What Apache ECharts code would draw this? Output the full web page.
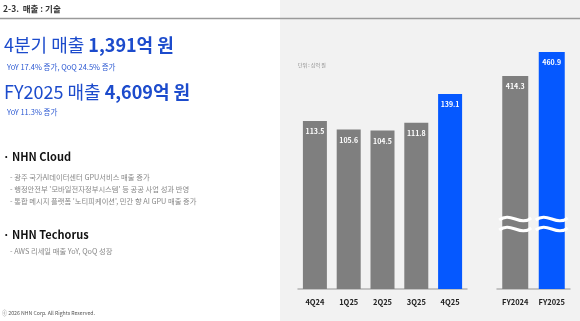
<!DOCTYPE html>
<html>
<head>
<meta charset="utf-8">
<script src="https://cdn.jsdelivr.net/npm/echarts@6/dist/echarts.min.js"></script>
<style>
html, body { margin: 0; padding: 0; background: #fff; }
#chart { width: 580px; height: 321px; }
</style>
</head>
<body>
<div id="chart"></div>
<script>
// 분기 매출 (단위: 십억 원)
var quarters = ['4Q24', '1Q25', '2Q25', '3Q25', '4Q25'];
var quarterSales = [113.5, 105.6, 104.5, 111.8, 139.1];
var years = ['FY2024', 'FY2025'];
var yearSales = [414.3, 460.9];
var unitText = '단위 : 십억 원';

var headerText = '2-3.  매출 : 기술';
var cloudNotes = [
	'- 광주 국가AI데이터센터 GPU서비스 매출 증가',
	'- 행정안전부 \'모바일전자정부시스템\' 등 공공 사업 성과 반영',
	'- 통합 메시지 플랫폼 \'노티피케이션\', 민간 향 AI GPU 매출 증가'
];
var techorusNotes = ['- AWS 리세일 매출 YoY, QoQ 성장'];

var FONT = '"Noto Sans CJK KR", "Noto Sans", sans-serif';
var GREY = '#7f7f7f';
var BLUE = '#0558ff';
var TITLE_BLUE = '#1c4bcc';

function barColor(list) {
	return list.map(function (v, i) {
		return {
			value: v,
			itemStyle: { color: i == list.length - 1 ? BLUE : GREY }
		};
	});
}

var myChart = echarts.init(document.getElementById('chart'));

var graphics = [
	{ type: 'rect', shape: { x: 280, y: 0, width: 300, height: 321 }, style: { fill: '#f2f2f2' }, z: -10 },
	{ type: 'line', shape: { x1: 0, y1: 18.5, x2: 580, y2: 18.5 }, style: { stroke: '#9a9a9a', lineWidth: 1.5 }, z: 10 },
	{
		type: 'text', left: 3, top: 5, z: 10,
		style: { text: headerText, fontSize: 8.5, fill: '#333', fontWeight: 'bold', fontFamily: FONT }
	},
	{
		type: 'text', left: 4, top: 36, z: 10,
		style: {
			text: '{n|4분기 매출 }{b|1,391억 원}',
			rich: {
				n: { fontSize: 18, fill: TITLE_BLUE, fontFamily: FONT },
				b: { fontSize: 18, fill: TITLE_BLUE, fontFamily: FONT, fontWeight: 'bold' }
			}
		}
	},
	{
		type: 'text', left: 7, top: 63, z: 10,
		style: { text: 'YoY 17.4% 증가, QoQ 24.5% 증가', fontSize: 7.5, fill: '#2b58d2', fontFamily: FONT }
	},
	{
		type: 'text', left: 4, top: 83, z: 10,
		style: {
			text: '{n|FY2025 매출 }{b|4,609억 원}',
			rich: {
				n: { fontSize: 18, fill: TITLE_BLUE, fontFamily: FONT },
				b: { fontSize: 18, fill: TITLE_BLUE, fontFamily: FONT, fontWeight: 'bold' }
			}
		}
	},
	{
		type: 'text', left: 7, top: 108, z: 10,
		style: { text: 'YoY 11.3% 증가', fontSize: 7.5, fill: '#2b58d2', fontFamily: FONT }
	},
	{
		type: 'text', left: 3, top: 151, z: 10,
		style: { text: '· NHN Cloud', fontSize: 11, fill: '#111', fontWeight: 'bold', fontFamily: FONT }
	},
	{
		type: 'text', left: 3, top: 229, z: 10,
		style: { text: '· NHN Techorus', fontSize: 11, fill: '#111', fontWeight: 'bold', fontFamily: FONT }
	},
	{
		type: 'text', left: 2, top: 310, z: 10,
		style: { text: 'ⓒ 2026 NHN Corp. All Rights Reserved.', fontSize: 5.2, fill: '#555', fontFamily: FONT }
	},
	{
		type: 'text', left: 298, top: 63, z: 10,
		style: { text: unitText, fontSize: 5, fill: '#888', fontFamily: FONT }
	}
];
cloudNotes.forEach(function (s, i) {
	graphics.push({
		type: 'text', left: 10, top: 174 + i * 12, z: 10,
		style: { text: s, fontSize: 7.3, fill: '#888', fontFamily: FONT }
	});
});
techorusNotes.forEach(function (s, i) {
	graphics.push({
		type: 'text', left: 10, top: 248 + i * 12, z: 10,
		style: { text: s, fontSize: 7.3, fill: '#888', fontFamily: FONT }
	});
});

var labelStyle = {
	show: true, position: 'insideTop', distance: 7,
	color: '#fff', fontSize: 7, fontWeight: 'bold', fontFamily: FONT,
	formatter: function (p) { return p.value.toFixed(1); }
};
var xLabel = { color: '#222', fontSize: 7.5, fontWeight: 'bold', fontFamily: FONT, margin: 9 };

option = {
	animation: false,
	backgroundColor: '#fff',
	grid: [
		{ left: 298, right: 113, top: 40, bottom: 32 },
		{ left: 497, right: 10, top: 32, bottom: 32 }
	],
	xAxis: [
		{
			type: 'category', gridIndex: 0, data: quarters,
			axisLine: { onZero: false, lineStyle: { color: '#b4b4b4', width: 1.5 } },
			axisTick: { show: false }, axisLabel: xLabel
		},
		{
			type: 'category', gridIndex: 1, data: years,
			axisLine: { onZero: false, lineStyle: { color: '#b4b4b4', width: 1.5 } },
			axisTick: { show: false }, axisLabel: xLabel
		}
	],
	yAxis: [
		{ type: 'value', gridIndex: 0, min: -45, max: 190, startValue: -45, show: false },
		{ type: 'value', gridIndex: 1, min: 0, max: 500, show: false }
	],
	series: [
		{
			type: 'bar', xAxisIndex: 0, yAxisIndex: 0, barWidth: 24,
			data: barColor(quarterSales), label: labelStyle
		},
		{
			type: 'bar', xAxisIndex: 1, yAxisIndex: 1, barWidth: 26,
			data: barColor(yearSales), label: labelStyle
		}
	],
	graphic: graphics
};
myChart.setOption(option);

// 축 생략 물결 표시
var waves = [];
years.forEach(function (y, i) {
	var cx = myChart.convertToPixel({ xAxisIndex: 1, yAxisIndex: 1 }, [y, 0])[0];
	[219, 229].forEach(function (wy) {
		var x0 = cx - 16, w = 32;
		waves.push({
			type: 'bezierCurve', z: 20,
			shape: { x1: x0, y1: wy + 1, cpx1: x0 + w * 0.35, cpy1: wy - 8, cpx2: x0 + w * 0.65, cpy2: wy + 8, x2: x0 + w, y2: wy - 1 },
			style: { stroke: '#fff', lineWidth: 3, fill: null }
		});
	});
});
myChart.setOption({ graphic: graphics.concat(waves) });
</script>
</body>
</html>
